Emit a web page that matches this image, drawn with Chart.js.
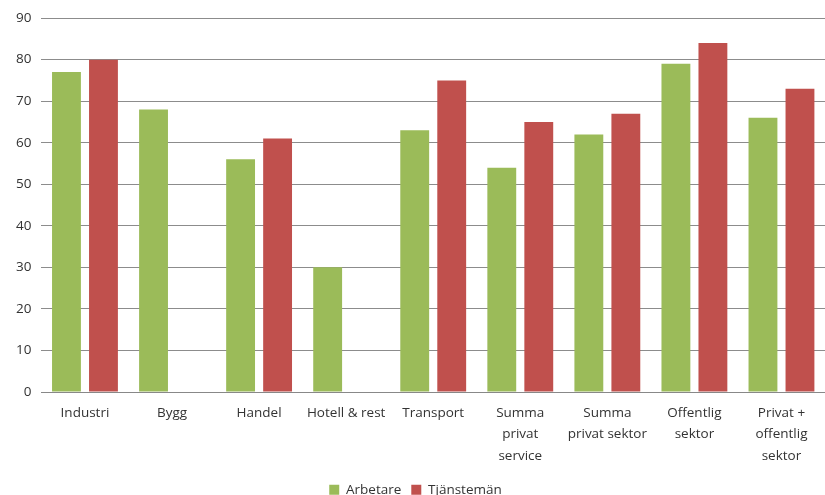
<!DOCTYPE html>
<html>
<head>
<meta charset="utf-8">
<script src="https://cdn.jsdelivr.net/npm/chart.js@4"></script>
<style>
  html, body { margin: 0; padding: 0; background: #fff; }
  #wrap { width: 825px; height: 495px; }
</style>
</head>
<body>
<div id="wrap"><canvas id="myChart"></canvas></div>
<script>
const categories = [
    'Industri',
    'Bygg',
    'Handel',
    'Hotell & rest',
    'Transport',
    ['Summa', 'privat', 'service'],
    ['Summa', 'privat sektor'],
    ['Offentlig', 'sektor'],
    ['Privat +', 'offentlig', 'sektor']
];
const arbetare = [77, 68, 56, 30, 63, 54, 62, 79, 66];
const tjansteman = [80, null, 61, null, 75, 65, 67, 84, 73];
const yTicks = { min: 0, max: 90, step: 10 };

const ctx = document.getElementById('myChart');
Chart.defaults.font.family = '"Open Sans", "Noto Sans", sans-serif';
Chart.defaults.color = '#333';

// squeeze the legend box so it sits right at the bottom edge
const legendFit = {
    id: 'legendFit',
    beforeLayout(chart) {
        const lg = chart.legend;
        if (lg && !lg._squeezed) {
            const orig = lg.fit;
            lg.fit = function () {
                orig.call(this);
                this.height = 22;
            };
            lg._squeezed = true;
        }
    }
};

new Chart(ctx, {
    type: 'bar',
    data: {
        labels: categories,
        datasets: [{
            label: 'Arbetare',
            data: arbetare,
            backgroundColor: '#9bbb59',
            categoryPercentage: 0.85,
            barPercentage: 0.78
        }, {
            label: 'Tjänstemän',
            data: tjansteman,
            backgroundColor: '#c0504d',
            categoryPercentage: 0.85,
            barPercentage: 0.78
        }]
    },
    options: {
        responsive: true,
        maintainAspectRatio: false,
        animation: false,
        layout: { padding: { top: 9, left: 6, right: 0, bottom: 0 } },
        plugins: {
            legend: {
                position: 'bottom',
                labels: {
                    boxWidth: 10,
                    boxHeight: 10,
                    padding: 10,
                    font: { size: 13.5 }
                }
            },
            tooltip: { enabled: false }
        },
        scales: {
            x: {
                grid: { display: false, drawTicks: false },
                border: { color: '#888' },
                ticks: { padding: 10, maxRotation: 0, font: { size: 13.5, lineHeight: 1.6 } },
                afterFit: function (scale) { scale.height = 81; }
            },
            y: {
                min: yTicks.min,
                max: yTicks.max,
                grid: { color: '#8c8c8c', drawTicks: false },
                border: { display: false },
                ticks: { stepSize: yTicks.step, padding: 10, font: { size: 13.5 } }
            }
        }
    },
    plugins: [legendFit]
});
</script>
</body>
</html>
